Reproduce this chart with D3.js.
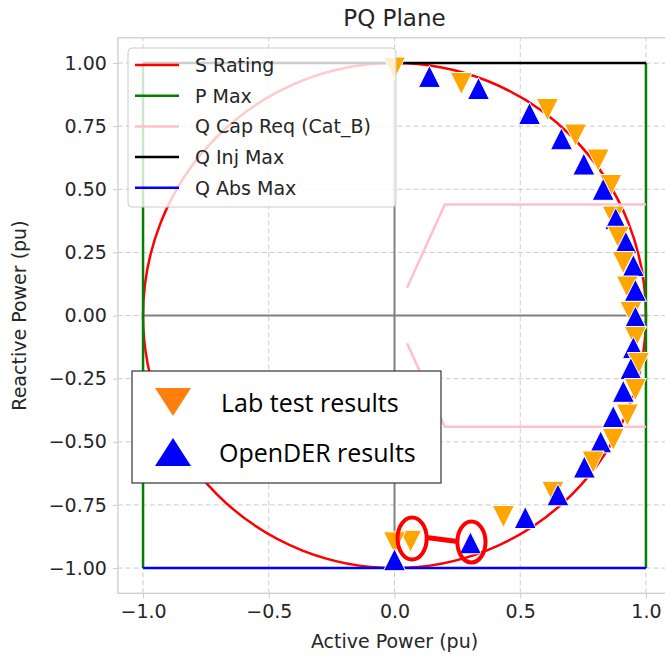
<!DOCTYPE html>
<html>
<head>
<meta charset="utf-8">
<script src="https://cdn.jsdelivr.net/npm/d3@7"></script>
<style>
  body { margin: 0; background: #fff; }
  svg { display: block; }
</style>
</head>
<body>
<svg id="chart" width="665" height="661"></svg>
<script>
// lab test results (P, Q), clockwise from the top
const labP = [0.0, 0.266, 0.608, 0.72, 0.81, 0.86, 0.87, 0.89, 0.91, 0.926, 0.94,
              0.958, 0.97, 0.958, 0.926, 0.87, 0.79, 0.63, 0.433, 0.064, 0.0];
const labQ = [0.98, 0.919, 0.816, 0.715, 0.616, 0.515, 0.39, 0.31, 0.21, 0.113, 0.012,
              -0.087, -0.19, -0.293, -0.394, -0.49, -0.58, -0.70, -0.796, -0.894, -0.90];
// OpenDER results
const derP = [0.139, 0.334, 0.537, 0.664, 0.753, 0.83, 0.88, 0.92, 0.95, 0.958, 0.958,
              0.95, 0.94, 0.91, 0.87, 0.82, 0.755, 0.65, 0.52, 0.302, 0.0];
const derQ = [0.947, 0.899, 0.80, 0.70, 0.60, 0.50, 0.384, 0.29, 0.198, 0.10, -0.006,
              -0.127, -0.21, -0.30, -0.40, -0.50, -0.60, -0.71, -0.80, -0.90, -0.967];

// limits
const sRating = 1.0;
const pMax = 1.0;
const qInjMax = 1.0;
const qAbsMax = -1.0;
const qCapP = [0.05, 0.2, 1.0];
const qCapQ = [0.11, 0.44, 0.44];

const xTicks = [-1.0, -0.5, 0.0, 0.5, 1.0];
const yTicks = [-1.0, -0.75, -0.5, -0.25, 0.0, 0.25, 0.5, 0.75, 1.0];

const lineLegend = [
  {name: "S Rating", color: "#ff0000"},
  {name: "P Max", color: "#008000"},
  {name: "Q Cap Req (Cat_B)", color: "#ffc0cb"},
  {name: "Q Inj Max", color: "#000000"},
  {name: "Q Abs Max", color: "#0000ff"}
];
const markerLegend = ["Lab test results", "OpenDER results"];

// red hand-drawn marks around the odd pair (data units)
const ringCenters = [[0.07, -0.883], [0.306, -0.897]];
const ringRadii = [[0.058, 0.083], [0.056, 0.081]];
const ringLink = [[0.127, -0.879], [0.25, -0.895]];

const txt = "#262626";
const font = "DejaVu Sans";

const svg = d3.select("#chart");
const x = d3.scaleLinear().domain([-1.1, 1.1]).range([117.9, 671.1]);
const y = d3.scaleLinear().domain([-1.1, 1.1]).range([593.3, 37.8]);

// grid
const g = svg.append("g");
g.selectAll(".gx").data(xTicks).enter().append("line")
  .attr("x1", d => x(d)).attr("x2", d => x(d))
  .attr("y1", y(-1.1)).attr("y2", y(1.1))
  .attr("stroke", "#cccccc").attr("stroke-width", 1).attr("stroke-dasharray", "5,3");
g.selectAll(".gy").data(yTicks).enter().append("line")
  .attr("y1", d => y(d)).attr("y2", d => y(d))
  .attr("x1", x(-1.1)).attr("x2", x(1.1))
  .attr("stroke", "#cccccc").attr("stroke-width", 1).attr("stroke-dasharray", "5,3");

// frame
svg.append("rect")
  .attr("x", x(-1.1)).attr("y", y(1.1))
  .attr("width", x(1.1) - x(-1.1)).attr("height", y(-1.1) - y(1.1))
  .attr("fill", "none").attr("stroke", "#cccccc").attr("stroke-width", 1.25);

// axes
const xAxis = d3.axisBottom(x).tickValues(xTicks).tickSize(5).tickPadding(6)
  .tickFormat(d => d3.format(".1f")(d).replace("-", "\u2212"));
const yAxis = d3.axisLeft(y).tickValues(yTicks).tickSize(5).tickPadding(6)
  .tickFormat(d => d3.format(".2f")(d).replace("-", "\u2212"));

const gx = svg.append("g").attr("transform", `translate(0,${y(-1.1)})`).call(xAxis);
const gy = svg.append("g").attr("transform", `translate(${x(-1.1)},0)`).call(yAxis);
[gx, gy].forEach(a => {
  a.select(".domain").remove();
  a.selectAll(".tick line").attr("stroke", "#cccccc").attr("stroke-width", 1);
  a.selectAll(".tick text").attr("fill", txt).style("font-family", font).style("font-size", "19px");
});

svg.append("text").text("PQ Plane")
  .attr("x", x(0)).attr("y", 26).attr("text-anchor", "middle")
  .attr("fill", txt).style("font-family", font).style("font-size", "23px");
svg.append("text").text("Active Power (pu)")
  .attr("x", x(0)).attr("y", 648).attr("text-anchor", "middle")
  .attr("fill", txt).style("font-family", font).style("font-size", "19px");
svg.append("text").text("Reactive Power (pu)")
  .attr("transform", `translate(26,${(y(-1.1) + y(1.1)) / 2}) rotate(-90)`)
  .attr("text-anchor", "middle")
  .attr("fill", txt).style("font-family", font).style("font-size", "19px");

// zero lines
svg.append("line").attr("x1", x(0)).attr("x2", x(0)).attr("y1", y(-1)).attr("y2", y(1))
  .attr("stroke", "#808080").attr("stroke-width", 2);
svg.append("line").attr("x1", x(-1)).attr("x2", x(1)).attr("y1", y(0)).attr("y2", y(0))
  .attr("stroke", "#808080").attr("stroke-width", 2);

const lw = 2.5;
// S rating circle
svg.append("ellipse")
  .attr("cx", x(0)).attr("cy", y(0))
  .attr("rx", x(sRating) - x(0)).attr("ry", y(0) - y(sRating))
  .attr("fill", "none").attr("stroke", lineLegend[0].color).attr("stroke-width", lw);

// P max
[-pMax, pMax].forEach(p => {
  svg.append("line").attr("x1", x(p)).attr("x2", x(p)).attr("y1", y(qAbsMax)).attr("y2", y(qInjMax))
    .attr("stroke", lineLegend[1].color).attr("stroke-width", lw);
});

// Q cap requirement, injection and absorption sides
const line = d3.line().x(d => x(d[0])).y(d => y(d[1]));
[1, -1].forEach(s => {
  svg.append("path").datum(qCapP.map((p, i) => [p, s * qCapQ[i]]))
    .attr("d", line).attr("fill", "none")
    .attr("stroke", lineLegend[2].color).attr("stroke-width", lw);
});

// Q inj / abs max
svg.append("line").attr("x1", x(-pMax)).attr("x2", x(pMax)).attr("y1", y(qInjMax)).attr("y2", y(qInjMax))
  .attr("stroke", lineLegend[3].color).attr("stroke-width", lw);
svg.append("line").attr("x1", x(-pMax)).attr("x2", x(pMax)).attr("y1", y(qAbsMax)).attr("y2", y(qAbsMax))
  .attr("stroke", lineLegend[4].color).attr("stroke-width", lw);

// triangles
function tri(s, up) {
  const h = s / 2;
  return up ? `M0,${-h}L${-h},${h}L${h},${h}Z` : `M0,${h}L${-h},${-h}L${h},${-h}Z`;
}
const ms = 22;
const pts = [];
labP.forEach((p, i) => {
  pts.push({p: p, q: labQ[i], up: false});
  if (i < derP.length) pts.push({p: derP[i], q: derQ[i], up: true});
});
svg.selectAll(".mk").data(pts).enter().append("path")
  .attr("transform", d => `translate(${x(d.p)},${y(d.q)})`)
  .attr("d", d => tri(ms, d.up))
  .attr("fill", d => d.up ? "#0000ff" : "#ffa500")
  .attr("stroke", "#ffffff").attr("stroke-width", 1);

// line legend
const lg = svg.append("g").attr("transform", "translate(128,48)");
lg.append("rect").attr("width", 268).attr("height", 159).attr("rx", 4)
  .attr("fill", "#ffffff").attr("fill-opacity", 0.8)
  .attr("stroke", "#cccccc").attr("stroke-width", 1);
const li = lg.selectAll(".li").data(lineLegend).enter().append("g")
  .attr("transform", (d, i) => `translate(0,${17 + i * 30.7})`);
li.append("line").attr("x1", 7).attr("x2", 51)
  .attr("stroke", d => d.color).attr("stroke-width", lw);
li.append("text").text(d => d.name).attr("x", 67).attr("y", 7)
  .attr("fill", txt).style("font-family", font).style("font-size", "19px");

// red annotation marks
ringCenters.forEach((c, i) => {
  svg.append("ellipse")
    .attr("cx", x(c[0])).attr("cy", y(c[1]))
    .attr("rx", x(ringRadii[i][0]) - x(0)).attr("ry", y(0) - y(ringRadii[i][1]))
    .attr("fill", "none").attr("stroke", "#ff0000").attr("stroke-width", 4);
});
svg.append("path").datum(ringLink).attr("d", line)
  .attr("stroke", "#ff0000").attr("stroke-width", 5).attr("fill", "none");

// marker legend box
const ml = svg.append("g").attr("transform", "translate(132,371)");
ml.append("rect").attr("width", 309).attr("height", 112)
  .attr("fill", "#ffffff").attr("stroke", "#333333").attr("stroke-width", 1.2);
const mi = ml.selectAll(".mi").data(markerLegend).enter().append("g")
  .attr("transform", (d, i) => `translate(0,${31 + i * 50})`);
mi.append("path")
  .attr("transform", "translate(41,0)")
  .attr("d", (d, i) => i === 0 ? "M0,14L-18,-14L18,-14Z" : "M0,-14L-18,14L18,14Z")
  .attr("fill", (d, i) => i === 0 ? "#ff7f0e" : "#0000ff");
mi.append("text").text(d => d).attr("x", (d, i) => i === 0 ? 89 : 87).attr("y", 10)
  .attr("fill", "#000000").style("font-family", "Open Sans").style("font-size", "25px");
</script>
</body>
</html>
